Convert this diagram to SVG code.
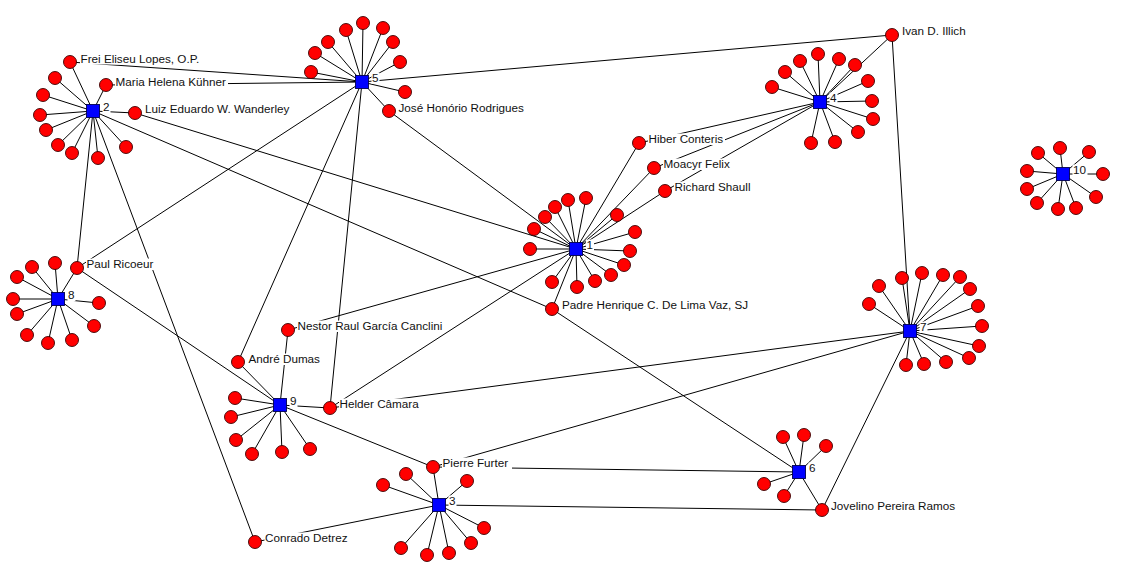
<svg xmlns="http://www.w3.org/2000/svg" width="1134" height="584" viewBox="0 0 1134 584">
<style>
.e{stroke:#000;stroke-width:1;fill:none}
.s{fill:#FF0000;stroke:#3a0000;stroke-width:0.9}
.h{fill:#0000FF;stroke:#000050;stroke-width:0.9}
.t{font-family:"Liberation Sans",Arial,sans-serif;font-size:11.7px;fill:#111}
.bg{fill:#fff}
</style>
<rect width="1134" height="584" fill="#fff"/>
<g id="connectors">
<!-- hub 1 satellites -->
<path class="e" d="M576,249L530,249M576,249L534,229M576,249L545,217M576,249L555,207M576,249L568,200M576,249L586,198M576,249L617,215M576,249L635,232M576,249L630,251M576,249L624,265M576,249L611,275M576,249L595,281M576,249L577,287M576,249L552,282"/>
<!-- hub 2 satellites -->
<path class="e" d="M93,111L55,78M93,111L43,95M93,111L40,115M93,111L46,130M93,111L58,145M93,111L72,153M93,111L98,158M93,111L126,147"/>
<!-- hub 3 satellites -->
<path class="e" d="M439,505L406,474M439,505L383,485M439,505L467,481M439,505L484,528M439,505L471,543M439,505L449,553M439,505L427,555M439,505L401,548"/>
<!-- hub 4 satellites -->
<path class="e" d="M820,102L772,87M820,102L785,72M820,102L800,61M820,102L818,54M820,102L839,59M820,102L855,65M820,102L868,81M820,102L872,101M820,102L873,119M820,102L858,132M820,102L835,142M820,102L811,143"/>
<!-- hub 5 satellites -->
<path class="e" d="M362,82L311,72M362,82L315,53M362,82L328,42M362,82L346,30M362,82L363,23M362,82L383,28M362,82L393,42M362,82L400,62M362,82L405,92"/>
<!-- hub 6 satellites -->
<path class="e" d="M799,472L783,437M799,472L804,435M799,472L826,446M799,472L764,484M799,472L784,496"/>
<!-- hub 7 satellites -->
<path class="e" d="M910,331L869,304M910,331L879,286M910,331L902,278M910,331L922,273M910,331L943,275M910,331L960,277M910,331L970,289M910,331L978,306M910,331L982,326M910,331L979,346M910,331L969,358M910,331L946,362M910,331L924,364M910,331L906,365"/>
<!-- hub 8 satellites -->
<path class="e" d="M58,299L55,263M58,299L32,267M58,299L17,277M58,299L13,299M58,299L17,314M58,299L27,335M58,299L48,343M58,299L72,340M58,299L94,326M58,299L99,303"/>
<!-- hub 9 satellites -->
<path class="e" d="M280,405L235,398M280,405L231,417M280,405L236,440M280,405L252,454M280,405L282,452M280,405L310,449"/>
<!-- hub 10 satellites -->
<path class="e" d="M1063,174L1038,153M1063,174L1060,148M1063,174L1089,152M1063,174L1103,174M1063,174L1027,171M1063,174L1027,189M1063,174L1037,203M1063,174L1058,209M1063,174L1076,208M1063,174L1096,197"/>
<!-- shared nodes -->
<path class="e" d="M70,62L93,111M70,62L362,82"/>
<path class="e" d="M106,85L93,111M106,85L362,82"/>
<path class="e" d="M135,113L93,111M135,113L576,249"/>
<path class="e" d="M389,111L362,82M389,111L576,249"/>
<path class="e" d="M639,143L576,249M639,143L820,102"/>
<path class="e" d="M654,168L576,249M654,168L820,102"/>
<path class="e" d="M665,191L576,249M665,191L820,102"/>
<path class="e" d="M892,35L362,82M892,35L820,102M892,35L910,331"/>
<path class="e" d="M77,268L58,299M77,268L93,111M77,268L362,82M77,268L280,405"/>
<path class="e" d="M288,330L280,405M288,330L576,249"/>
<path class="e" d="M238,362L280,405M238,362L362,82"/>
<path class="e" d="M552,309L576,249M552,309L93,111M552,309L799,472"/>
<path class="e" d="M330,408L280,405M330,408L362,82M330,408L576,249M330,408L910,331"/>
<path class="e" d="M433,467L439,505M433,467L280,405M433,467L799,472M433,467L910,331"/>
<path class="e" d="M255,542L93,111M255,542L439,505"/>
<path class="e" d="M822,510L799,472M822,510L439,505M822,510L910,331"/>
</g>
<g id="satellites">
<g id="s1"><circle class="s" cx="530" cy="249" r="6.5"/><circle class="s" cx="534" cy="229" r="6.5"/><circle class="s" cx="545" cy="217" r="6.5"/><circle class="s" cx="555" cy="207" r="6.5"/><circle class="s" cx="568" cy="200" r="6.5"/><circle class="s" cx="586" cy="198" r="6.5"/><circle class="s" cx="617" cy="215" r="6.5"/><circle class="s" cx="635" cy="232" r="6.5"/><circle class="s" cx="630" cy="251" r="6.5"/><circle class="s" cx="624" cy="265" r="6.5"/><circle class="s" cx="611" cy="275" r="6.5"/><circle class="s" cx="595" cy="281" r="6.5"/><circle class="s" cx="577" cy="287" r="6.5"/><circle class="s" cx="552" cy="282" r="6.5"/></g>
<g id="s2"><circle class="s" cx="55" cy="78" r="6.5"/><circle class="s" cx="43" cy="95" r="6.5"/><circle class="s" cx="40" cy="115" r="6.5"/><circle class="s" cx="46" cy="130" r="6.5"/><circle class="s" cx="58" cy="145" r="6.5"/><circle class="s" cx="72" cy="153" r="6.5"/><circle class="s" cx="98" cy="158" r="6.5"/><circle class="s" cx="126" cy="147" r="6.5"/></g>
<g id="s3"><circle class="s" cx="406" cy="474" r="6.5"/><circle class="s" cx="383" cy="485" r="6.5"/><circle class="s" cx="467" cy="481" r="6.5"/><circle class="s" cx="484" cy="528" r="6.5"/><circle class="s" cx="471" cy="543" r="6.5"/><circle class="s" cx="449" cy="553" r="6.5"/><circle class="s" cx="427" cy="555" r="6.5"/><circle class="s" cx="401" cy="548" r="6.5"/></g>
<g id="s4"><circle class="s" cx="772" cy="87" r="6.5"/><circle class="s" cx="785" cy="72" r="6.5"/><circle class="s" cx="800" cy="61" r="6.5"/><circle class="s" cx="818" cy="54" r="6.5"/><circle class="s" cx="839" cy="59" r="6.5"/><circle class="s" cx="855" cy="65" r="6.5"/><circle class="s" cx="868" cy="81" r="6.5"/><circle class="s" cx="872" cy="101" r="6.5"/><circle class="s" cx="873" cy="119" r="6.5"/><circle class="s" cx="858" cy="132" r="6.5"/><circle class="s" cx="835" cy="142" r="6.5"/><circle class="s" cx="811" cy="143" r="6.5"/></g>
<g id="s5"><circle class="s" cx="311" cy="72" r="6.5"/><circle class="s" cx="315" cy="53" r="6.5"/><circle class="s" cx="328" cy="42" r="6.5"/><circle class="s" cx="346" cy="30" r="6.5"/><circle class="s" cx="363" cy="23" r="6.5"/><circle class="s" cx="383" cy="28" r="6.5"/><circle class="s" cx="393" cy="42" r="6.5"/><circle class="s" cx="400" cy="62" r="6.5"/><circle class="s" cx="405" cy="92" r="6.5"/></g>
<g id="s6"><circle class="s" cx="783" cy="437" r="6.5"/><circle class="s" cx="804" cy="435" r="6.5"/><circle class="s" cx="826" cy="446" r="6.5"/><circle class="s" cx="764" cy="484" r="6.5"/><circle class="s" cx="784" cy="496" r="6.5"/></g>
<g id="s7"><circle class="s" cx="869" cy="304" r="6.5"/><circle class="s" cx="879" cy="286" r="6.5"/><circle class="s" cx="902" cy="278" r="6.5"/><circle class="s" cx="922" cy="273" r="6.5"/><circle class="s" cx="943" cy="275" r="6.5"/><circle class="s" cx="960" cy="277" r="6.5"/><circle class="s" cx="970" cy="289" r="6.5"/><circle class="s" cx="978" cy="306" r="6.5"/><circle class="s" cx="982" cy="326" r="6.5"/><circle class="s" cx="979" cy="346" r="6.5"/><circle class="s" cx="969" cy="358" r="6.5"/><circle class="s" cx="946" cy="362" r="6.5"/><circle class="s" cx="924" cy="364" r="6.5"/><circle class="s" cx="906" cy="365" r="6.5"/></g>
<g id="s8"><circle class="s" cx="55" cy="263" r="6.5"/><circle class="s" cx="32" cy="267" r="6.5"/><circle class="s" cx="17" cy="277" r="6.5"/><circle class="s" cx="13" cy="299" r="6.5"/><circle class="s" cx="17" cy="314" r="6.5"/><circle class="s" cx="27" cy="335" r="6.5"/><circle class="s" cx="48" cy="343" r="6.5"/><circle class="s" cx="72" cy="340" r="6.5"/><circle class="s" cx="94" cy="326" r="6.5"/><circle class="s" cx="99" cy="303" r="6.5"/></g>
<g id="s9"><circle class="s" cx="235" cy="398" r="6.5"/><circle class="s" cx="231" cy="417" r="6.5"/><circle class="s" cx="236" cy="440" r="6.5"/><circle class="s" cx="252" cy="454" r="6.5"/><circle class="s" cx="282" cy="452" r="6.5"/><circle class="s" cx="310" cy="449" r="6.5"/></g>
<g id="s10"><circle class="s" cx="1038" cy="153" r="6.5"/><circle class="s" cx="1060" cy="148" r="6.5"/><circle class="s" cx="1089" cy="152" r="6.5"/><circle class="s" cx="1103" cy="174" r="6.5"/><circle class="s" cx="1027" cy="171" r="6.5"/><circle class="s" cx="1027" cy="189" r="6.5"/><circle class="s" cx="1037" cy="203" r="6.5"/><circle class="s" cx="1058" cy="209" r="6.5"/><circle class="s" cx="1076" cy="208" r="6.5"/><circle class="s" cx="1096" cy="197" r="6.5"/></g>
</g>
<g id="frei"><circle class="s" cx="70" cy="62" r="6.5"/><rect class="bg" x="80" y="53" width="123" height="11.5"/><text class="t" x="80.5" y="63">Frei Eliseu Lopes, O.P.</text></g>
<g id="maria"><circle class="s" cx="106" cy="85" r="6.5"/><rect class="bg" x="115" y="76" width="113" height="11.5"/><text class="t" x="115.5" y="85.5">Maria Helena Kühner</text></g>
<g id="luiz"><circle class="s" cx="135" cy="113" r="6.5"/><rect class="bg" x="144.5" y="103.5" width="152" height="11.5"/><text class="t" x="145" y="113">Luiz Eduardo W. Wanderley</text></g>
<g id="jose"><circle class="s" cx="389" cy="111" r="6.5"/><rect class="bg" x="398" y="102" width="129" height="11.5"/><text class="t" x="398.5" y="112">José Honório Rodrigues</text></g>
<g id="hiber"><circle class="s" cx="639" cy="143" r="6.5"/><rect class="bg" x="648" y="133.5" width="77" height="11.5"/><text class="t" x="648.5" y="143">Hiber Conteris</text></g>
<g id="moacyr"><circle class="s" cx="654" cy="168" r="6.5"/><rect class="bg" x="663" y="158.5" width="66" height="11.5"/><text class="t" x="663.5" y="168">Moacyr Felix</text></g>
<g id="richard"><circle class="s" cx="665" cy="191" r="6.5"/><rect class="bg" x="674" y="181.5" width="76" height="11.5"/><text class="t" x="674.5" y="191">Richard Shaull</text></g>
<g id="ivan"><circle class="s" cx="892" cy="35" r="6.5"/><rect class="bg" x="901.5" y="25.5" width="67" height="11.5"/><text class="t" x="902" y="35">Ivan D. Illich</text></g>
<g id="paul"><circle class="s" cx="77" cy="268" r="6.5"/><rect class="bg" x="86" y="258.5" width="68" height="11.5"/><text class="t" x="86.5" y="268">Paul Ricoeur</text></g>
<g id="nestor"><circle class="s" cx="288" cy="330" r="6.5"/><rect class="bg" x="297" y="320.5" width="143" height="11.5"/><text class="t" x="297.5" y="330">Nestor Raul García Canclini</text></g>
<g id="andre"><circle class="s" cx="238" cy="362" r="6.5"/><rect class="bg" x="248" y="353.5" width="74" height="11.5"/><text class="t" x="248.5" y="363">André Dumas</text></g>
<g id="padre"><circle class="s" cx="552" cy="309" r="6.5"/><rect class="bg" x="561.5" y="299.5" width="190" height="11.5"/><text class="t" x="562" y="309">Padre Henrique C. De Lima Vaz, SJ</text></g>
<g id="helder"><circle class="s" cx="330" cy="408" r="6.5"/><rect class="bg" x="339" y="398.5" width="80" height="11.5"/><text class="t" x="339.5" y="408">Helder Câmara</text></g>
<g id="pierre"><circle class="s" cx="433" cy="467" r="6.5"/><rect class="bg" x="442" y="457.5" width="70" height="11.5"/><text class="t" x="442.5" y="467">Pierre Furter</text></g>
<g id="conrado"><circle class="s" cx="255" cy="542" r="6.5"/><rect class="bg" x="264.5" y="532.5" width="86" height="11.5"/><text class="t" x="265" y="542">Conrado Detrez</text></g>
<g id="jovelino"><circle class="s" cx="822" cy="510" r="6.5"/><rect class="bg" x="830.5" y="500.5" width="125" height="11.5"/><text class="t" x="831" y="510">Jovelino Pereira Ramos</text></g>
<g id="n1"><rect class="h" x="569.5" y="242.5" width="13" height="13"/><rect class="bg" x="586" y="239.5" width="8" height="11.5"/><text class="t" x="586.5" y="249">1</text></g>
<g id="n2"><rect class="h" x="86.5" y="104.5" width="13" height="13"/><rect class="bg" x="102.5" y="101.5" width="8" height="11.5"/><text class="t" x="103" y="111">2</text></g>
<g id="n3"><rect class="h" x="432.5" y="498.5" width="13" height="13"/><rect class="bg" x="448.5" y="495.5" width="8" height="11.5"/><text class="t" x="449" y="505">3</text></g>
<g id="n4"><rect class="h" x="813.5" y="95.5" width="13" height="13"/><rect class="bg" x="829.5" y="92.5" width="8" height="11.5"/><text class="t" x="830" y="102">4</text></g>
<g id="n5"><rect class="h" x="355.5" y="75.5" width="13" height="13"/><rect class="bg" x="371.5" y="72.5" width="8" height="11.5"/><text class="t" x="372" y="82">5</text></g>
<g id="n6"><rect class="h" x="792.5" y="465.5" width="13" height="13"/><rect class="bg" x="808.5" y="462.5" width="8" height="11.5"/><text class="t" x="809" y="472">6</text></g>
<g id="n7"><rect class="h" x="903.5" y="324.5" width="13" height="13"/><rect class="bg" x="919.5" y="321.5" width="8" height="11.5"/><text class="t" x="920" y="331">7</text></g>
<g id="n8"><rect class="h" x="51.5" y="292.5" width="13" height="13"/><rect class="bg" x="67.5" y="289.5" width="8" height="11.5"/><text class="t" x="68" y="299">8</text></g>
<g id="n9"><rect class="h" x="273.5" y="398.5" width="13" height="13"/><rect class="bg" x="289.5" y="395.5" width="8" height="11.5"/><text class="t" x="290" y="405">9</text></g>
<g id="n10"><rect class="h" x="1056.5" y="167.5" width="13" height="13"/><rect class="bg" x="1072.5" y="164.5" width="15" height="11.5"/><text class="t" x="1073" y="174">10</text></g>
</svg>
